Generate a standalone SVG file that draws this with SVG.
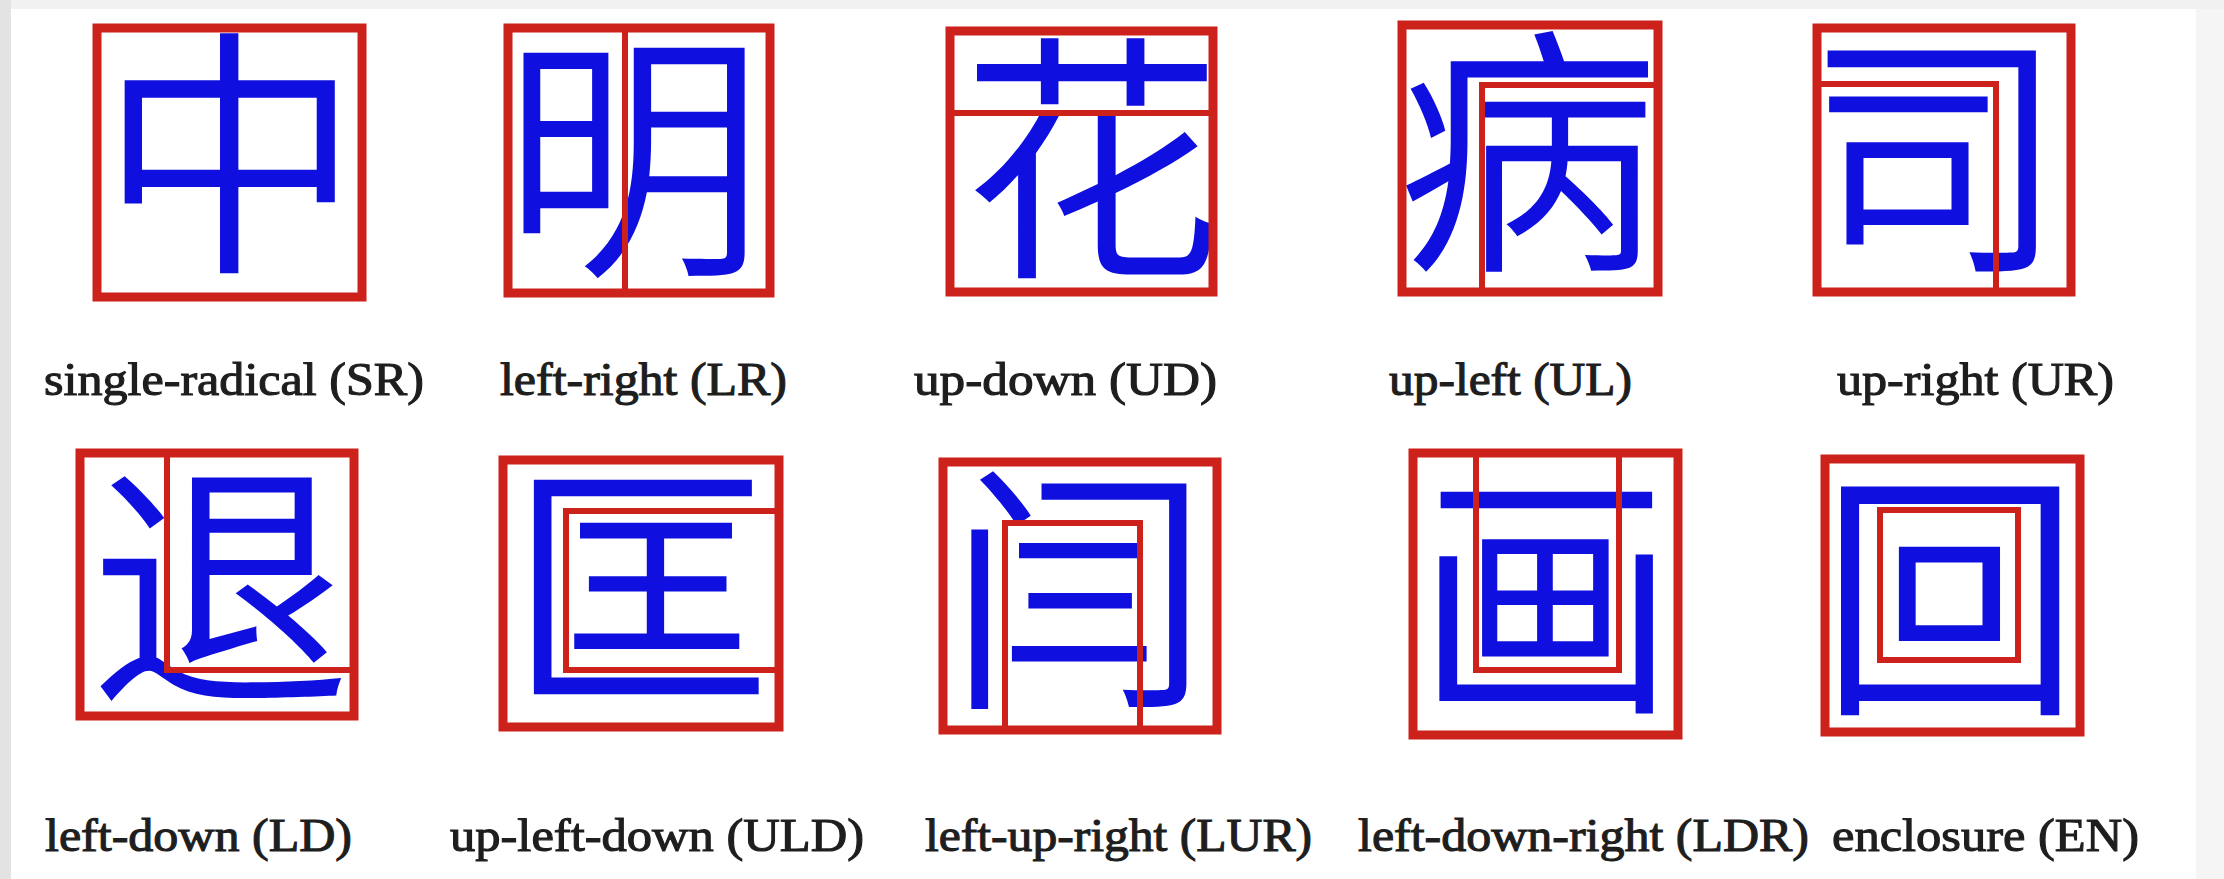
<svg xmlns="http://www.w3.org/2000/svg" width="2224" height="879" viewBox="0 0 2224 879">
<style>
.ch{font-family:"Noto Sans CJK SC","Noto Sans CJK TC",sans-serif;font-size:262px;font-weight:350;fill:#0f0fe0;text-anchor:middle}
.box{fill:none;stroke:#cd211c;stroke-width:9}
.in{fill:none;stroke:#cd211c;stroke-width:6}
.lb{font-family:"Liberation Serif","Times New Roman",serif;font-size:46px;font-weight:normal;fill:#1e1e1e;stroke:#1e1e1e;stroke-width:1.1}
</style>
<rect width="2224" height="879" fill="#ffffff"/>
<rect x="0" y="0" width="2224" height="9" fill="#f1f1f1"/>
<rect x="0" y="0" width="11" height="879" fill="#e3e3e3"/>
<rect x="2196" y="9" width="28" height="870" fill="#f5f5f5"/>

<g id="node-sr">
<text class="ch" x="230" y="253">中</text>
<rect class="box" x="97" y="28" width="265" height="269"/>
<text class="lb" x="44" y="395" textLength="380" lengthAdjust="spacingAndGlyphs">single-radical (SR)</text>
</g>

<g id="node-lr">
<text class="ch" x="633" y="256">明</text>
<rect class="box" x="508" y="28" width="262" height="265"/>
<line class="in" x1="625" y1="28" x2="625" y2="293"/>
<text class="lb" x="500" y="395" textLength="287" lengthAdjust="spacingAndGlyphs">left-right (LR)</text>
</g>

<g id="node-ud">
<text class="ch" x="1092" y="258">花</text>
<rect class="box" x="950" y="31" width="263" height="261"/>
<line class="in" x1="950" y1="113" x2="1213" y2="113"/>
<text class="lb" x="914" y="395" textLength="303" lengthAdjust="spacingAndGlyphs">up-down (UD)</text>
</g>

<g id="node-ul">
<text class="ch" x="1528" y="251">病</text>
<rect class="box" x="1402" y="25" width="256" height="267"/>
<polyline class="in" points="1482,292 1482,85 1655,85"/>
<text class="lb" x="1389" y="395" textLength="243" lengthAdjust="spacingAndGlyphs">up-left (UL)</text>
</g>

<g id="node-ur">
<text class="ch" x="1935" y="253">司</text>
<rect class="box" x="1817" y="28" width="254" height="264"/>
<polyline class="in" points="1817,84 1996,84 1996,292"/>
<text class="lb" x="1837" y="395" textLength="277" lengthAdjust="spacingAndGlyphs">up-right (UR)</text>
</g>

<g id="node-ld">
<text class="ch" x="220" y="685">退</text>
<rect class="box" x="80" y="453" width="274" height="263"/>
<polyline class="in" points="167,453 167,670 354,670"/>
<text class="lb" x="45" y="851" textLength="307" lengthAdjust="spacingAndGlyphs">left-down (LD)</text>
</g>

<g id="node-uld">
<text class="ch" x="640" y="685">匡</text>
<rect class="box" x="503" y="460" width="276" height="267"/>
<polyline class="in" points="779,511 566,511 566,670 779,670"/>
<text class="lb" x="450" y="851" textLength="414" lengthAdjust="spacingAndGlyphs">up-left-down (ULD)</text>
</g>

<g id="node-lur">
<text class="ch" x="1079" y="689">闫</text>
<rect class="box" x="943" y="462" width="274" height="268"/>
<polyline class="in" points="1005,730 1005,523 1140,523 1140,730"/>
<text class="lb" x="925" y="851" textLength="387" lengthAdjust="spacingAndGlyphs">left-up-right (LUR)</text>
</g>

<g id="node-ldr">
<text class="ch" x="1546" y="694">画</text>
<rect class="box" x="1413" y="453" width="265" height="282"/>
<polyline class="in" points="1476,453 1476,670 1619,670 1619,453"/>
<text class="lb" x="1358" y="851" textLength="451" lengthAdjust="spacingAndGlyphs">left-down-right (LDR)</text>
</g>

<g id="node-en">
<text class="ch" x="1950" y="695">回</text>
<rect class="box" x="1825" y="459" width="255" height="273"/>
<rect class="in" x="1880" y="510" width="138" height="150"/>
<text class="lb" x="1832" y="851" textLength="307" lengthAdjust="spacingAndGlyphs">enclosure (EN)</text>
</g>
</svg>
